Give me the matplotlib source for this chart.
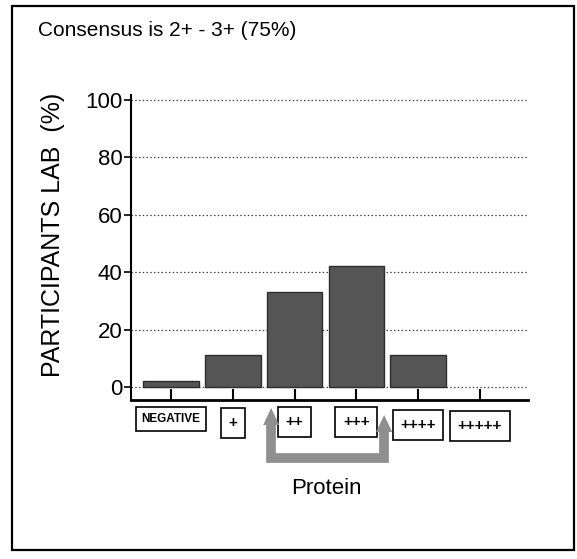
import matplotlib
matplotlib.use("Agg")
import matplotlib.pyplot as plt
import matplotlib.transforms as mtrans
from matplotlib.patches import Rectangle, Polygon
from matplotlib.lines import Line2D

plt.rcParams['font.family'] = ['Liberation Sans', 'DejaVu Sans']

categories = ["NEGATIVE", "+", "++", "+++", "++++", "+++++"]
values = [2, 11, 33, 42, 11, 0]
yticks = [0, 20, 40, 60, 80, 100]
title = "Consensus is 2+ - 3+ (75%)"
ylabel = "PARTICIPANTS LAB  (%)"
xlabel = "Protein"

W, H = 577, 559
fig = plt.figure(figsize=(W / 100, H / 100), dpi=100)

def fx(px):
    return px / W

def fy(py):
    return 1 - py / H

# outer border
fig.patches.append(Rectangle((fx(12), fy(550)), fx(574) - fx(12), fy(6) - fy(550),
                             transform=fig.transFigure, fill=False,
                             edgecolor='black', linewidth=1.6, zorder=0))

fig.text(fx(38), fy(31), title, fontsize=15, ha='left', va='center')

ax = fig.add_axes([fx(131), fy(400), fx(528) - fx(131), fy(95) - fy(400)])
x = list(range(len(categories)))
ax.bar(x, values, width=0.9, color='#555555', edgecolor='#2e2e2e',
       linewidth=[1.0 if v > 0 else 0 for v in values], zorder=3)
ax.set_xlim(-0.65, 5.78)
ax.set_ylim(-4.5, 101.7)
ax.set_yticks(yticks)
ax.set_yticklabels([str(t) for t in yticks], fontsize=16)
ax.set_xticks(x)
ax.tick_params(axis='x', direction='in', length=8, width=1.5, labelbottom=False)
ax.tick_params(axis='y', direction='out', length=5, width=1.2, pad=1)
ax.spines['top'].set_visible(False)
ax.spines['right'].set_visible(False)
ax.spines['left'].set_linewidth(1.5)
ax.spines['bottom'].set_linewidth(2.0)
ax.yaxis.grid(True, linestyle=(0, (1.2, 1.8)), color='#444444', linewidth=0.9)
ax.set_axisbelow(True)

fig.text(fx(53), fy(235), ylabel, fontsize=18, rotation=90, ha='center', va='center')

tr = mtrans.blended_transform_factory(ax.transData, fig.transFigure)

# boxed category labels
label_y = [419, 423, 422, 422, 425, 426]
for xi, cat, ly in zip(x, categories, label_y):
    fs = 8.5 if cat == "NEGATIVE" else 11
    ax.text(xi, fy(ly), cat, transform=tr,
            ha='center', va='center', fontsize=fs, fontweight='bold',
            bbox=dict(boxstyle='square,pad=0.5', facecolor='white',
                      edgecolor='black', linewidth=1.2))

# grey bracket arrow
xl, xr = 1.62, 3.45
grey = '#8f8f8f'
line = Line2D([xl, xl, xr, xr], [fy(422), fy(458), fy(458), fy(428)],
              transform=tr, color=grey, linewidth=7, solid_joinstyle='miter',
              solid_capstyle='butt', clip_on=False)
fig.lines.append(line)
hw = 0.13
for xa, tip in [(xl, 408), (xr, 415)]:
    tri = Polygon([[xa - hw, fy(tip + 17)], [xa + hw, fy(tip + 17)], [xa, fy(tip)]],
                  closed=True, transform=tr, facecolor=grey, edgecolor='none',
                  clip_on=False)
    fig.patches.append(tri)

fig.text(fx(326), fy(488), xlabel, fontsize=16, ha='center', va='center')

fig.savefig("out.png", dpi=100)
